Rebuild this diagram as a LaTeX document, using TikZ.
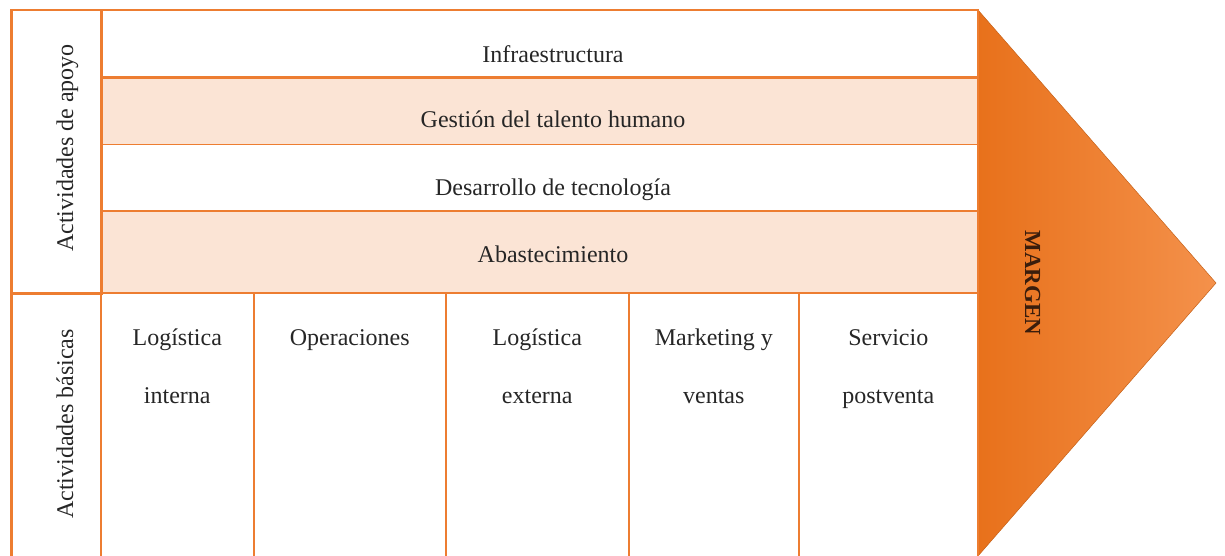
\documentclass[tikz,border=0pt]{standalone}
\usepackage{fontspec}
\setmainfont{Liberation Serif}
\definecolor{naranja}{HTML}{ED7D31}
\definecolor{salmon}{HTML}{FBE4D5}
\definecolor{flechaizq}{HTML}{E8711B}
\definecolor{flechader}{HTML}{F4914B}
\definecolor{letra}{HTML}{262626}
\definecolor{letramargen}{HTML}{3A1D0C}
\tikzset{
    marco/.style={draw=naranja,line width=1.5pt,anchor=north west,inner sep=0pt},
    texto/.style={font=\fontsize{24}{28}\selectfont,text=letra,anchor=base,inner sep=0pt}
}

\begin{document}
\begin{tikzpicture}[x=1pt,y=-1pt]
    \useasboundingbox (0,0) rectangle (1225,556);

    \shade[left color=flechaizq,right color=flechader,draw=flechaizq!85!black,line width=0.5pt]
        (978,10)--(1216,283)--(978,556)--cycle;
    \node[texto,font=\fontsize{23}{28}\selectfont\bfseries,text=letramargen,rotate=-90] (margen) at (1025,283){MARGEN};

    \node[marco,minimum width=877,minimum height=66] (infra) at (100,10){};
    \node[marco,fill=salmon,minimum width=877,minimum height=68] (talento) at (100,76){};
    \node[marco,minimum width=877,minimum height=66] (tecno) at (100,144){};
    \node[marco,fill=salmon,minimum width=877,minimum height=82] (abast) at (100,210){};

    \node[texto] (tinfra) at (553,63){Infraestructura};
    \node[texto] (ttalento) at (553,128){Gestión del talento humano};
    \node[texto] (ttecno) at (553,195){Desarrollo de tecnología};
    \node[texto] (tabast) at (553,262){Abastecimiento};

    \node[marco,minimum width=89,minimum height=282] (apoyo) at (11,10){};
    \node[marco,minimum width=89,minimum height=270] (basicas) at (11,292){};
    \node[texto,rotate=90] (tapoyo) at (73,148){Actividades de apoyo};
    \node[texto,rotate=90] (tbasicas) at (73,424){Actividades básicas};

    \foreach \xa/\xb [count=\i] in {100/253,253/445,445/628,628/798,798/977}{
        \node[marco,minimum width={\xb-\xa},minimum height=270] (col\i) at (\xa,292){};
    }
    \foreach \a/\b [count=\i] in {Logística/interna,Operaciones/,Logística/externa,Marketing y/ventas,Servicio/postventa}{
        \node[texto] (arriba\i) at (col\i.center |- 0,345){\a};
        \node[texto] (abajo\i) at (col\i.center |- 0,403){\b};
    }

    \draw[naranja,line width=3pt] (infra.south west)--(infra.south east);
    \draw[naranja,line width=3pt] (apoyo.north east)--(apoyo.south east)--(apoyo.south west);
    \draw[naranja,line width=2.5pt] (basicas.south west)--(apoyo.north west)--(infra.north east);
\end{tikzpicture}
\end{document}
